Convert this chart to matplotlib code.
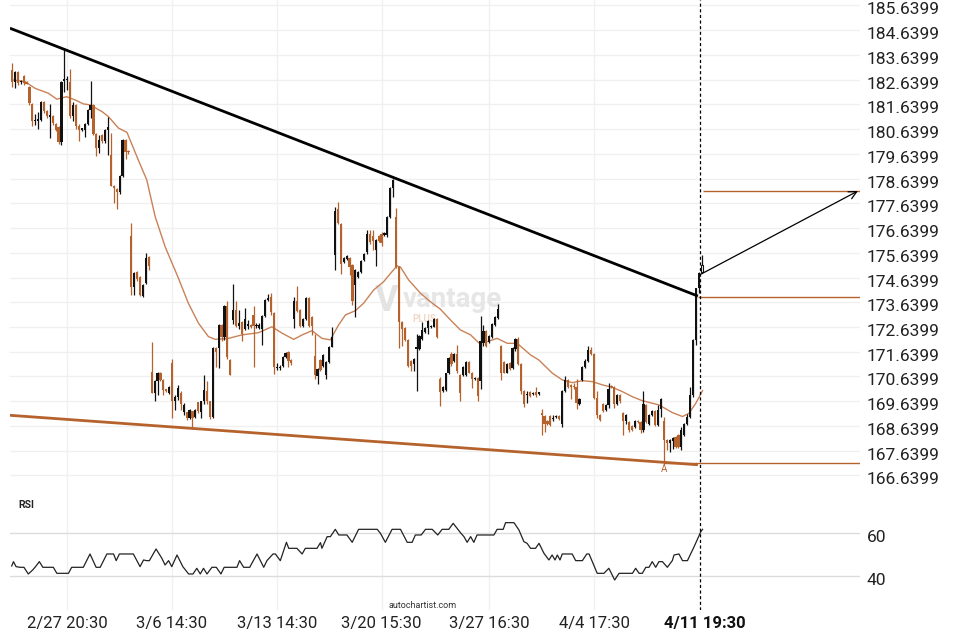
import matplotlib
matplotlib.use("Agg")
import matplotlib.pyplot as plt
import matplotlib.transforms as mtransforms

plt.rcParams['font.family'] = ['Roboto', 'DejaVu Sans']

UP = '#111111'
DOWN = '#b5622d'
MA_COL = '#c98257'

# hourly candles (price units)
opens = [
    183.04, 182.56, 182.94, 182.53, 182.77, 182.55, 182.36, 181.65, 180.95, 180.98,
    181.00, 181.74, 181.38, 181.15, 181.18, 180.85, 180.72, 180.10, 182.60, 182.62,
    182.56, 181.18, 181.62, 180.75, 180.62, 180.60, 180.85, 181.42, 181.62, 180.45,
    179.86, 180.40, 180.14, 180.60, 179.60, 178.35, 178.22, 178.08, 178.75, 180.20,
    179.75, 176.33, 174.25, 174.88, 174.68, 173.90, 174.40, 175.49, 170.84, 169.97,
    170.44, 170.80, 170.50, 170.10, 169.99, 171.20, 169.63, 169.83, 169.99, 169.20,
    169.19, 168.96, 169.23, 169.01, 169.59, 169.19, 169.63, 170.06, 169.63, 169.01,
    171.79, 171.79, 172.74, 172.23, 173.48, 171.31, 172.93, 173.33, 172.68, 172.83,
    172.56, 172.70, 172.74, 173.14, 172.68, 172.60, 172.56, 173.08, 173.74, 173.87,
    173.20, 170.99, 170.98, 171.08, 171.41, 171.62, 171.31, 172.97, 173.68, 173.33,
    172.70, 172.97, 173.82, 173.06, 171.48, 170.67, 171.31, 171.08, 170.71, 171.21,
    171.85, 175.57, 177.40, 176.82, 175.26, 175.40, 175.44, 175.13, 174.32, 174.68,
    174.86, 175.33, 175.67, 176.41, 176.30, 175.74, 176.30, 176.39, 176.35, 176.35,
    177.09, 178.24, 177.09, 175.06, 172.83, 172.60, 172.12, 171.28, 171.14, 171.77,
    171.75, 172.16, 172.43, 172.60, 172.64, 172.66, 172.97, 170.53, 170.06, 170.09,
    170.76, 171.55, 171.28, 171.55, 170.71, 170.71, 170.71, 171.21, 170.80, 170.53,
    170.57, 170.44, 171.98, 172.47, 172.02, 172.25, 172.74, 173.01, 171.88, 171.21,
    170.80, 171.17, 170.98, 171.75, 172.16, 171.14, 170.06, 169.88, 170.01, 169.93,
    170.01, 169.95, 169.15, 169.03, 168.84, 169.03, 168.93, 169.00, 169.03, 168.73,
    170.05, 170.48, 170.31, 170.24, 170.23, 169.51, 170.48, 171.01, 171.28, 171.71,
    171.55, 169.78, 169.07, 169.51, 169.27, 169.47, 170.27, 170.21, 169.51, 169.91,
    169.16, 168.84, 168.80, 168.62, 168.60, 168.84, 168.80, 168.46, 169.47, 168.73,
    169.07, 169.24, 168.66, 169.34, 168.84, 168.06, 167.93, 168.03, 168.19, 168.26,
    167.77, 168.26, 168.73, 169.00, 169.91, 172.11, 174.20, 174.86,
]
highs = [
    183.31, 182.98, 182.98, 182.64, 182.83, 182.60, 182.40, 181.70, 181.25, 181.35,
    181.78, 181.78, 181.42, 181.65, 181.22, 180.90, 180.76, 182.60, 183.91, 182.80,
    183.06, 181.75, 181.66, 180.85, 180.70, 180.90, 181.46, 182.57, 181.66, 180.50,
    180.40, 180.45, 180.66, 181.12, 180.50, 178.40, 178.27, 178.80, 180.25, 180.25,
    179.78, 176.84, 174.88, 174.92, 174.72, 174.36, 175.62, 175.52, 172.05, 170.50,
    170.84, 170.84, 170.55, 170.12, 170.25, 171.35, 169.88, 170.30, 170.05, 169.55,
    169.22, 169.32, 169.26, 169.32, 169.62, 169.66, 170.71, 170.44, 169.66, 171.82,
    171.82, 172.78, 172.78, 173.52, 173.71, 171.35, 174.36, 173.71, 173.31, 172.88,
    173.41, 172.93, 172.78, 173.47, 172.80, 172.80, 173.12, 173.78, 173.98, 174.03,
    173.24, 171.17, 171.10, 171.45, 171.62, 171.66, 171.35, 173.85, 174.31, 173.36,
    173.00, 173.86, 173.86, 173.10, 172.36, 170.98, 171.35, 171.56, 171.25, 171.86,
    172.63, 177.49, 177.70, 176.86, 175.48, 175.57, 175.48, 175.17, 174.97, 174.90,
    175.34, 175.64, 176.55, 176.55, 176.55, 176.18, 176.34, 176.48, 176.48, 177.13,
    178.28, 178.64, 177.47, 175.10, 172.87, 172.64, 172.16, 171.32, 171.39, 172.36,
    172.33, 172.83, 172.64, 172.94, 172.72, 173.01, 173.01, 170.63, 170.24, 170.80,
    171.43, 171.62, 171.59, 171.93, 170.75, 171.07, 171.25, 171.25, 170.84, 170.61,
    170.61, 173.10, 172.74, 172.51, 172.33, 172.80, 173.10, 173.55, 171.92, 171.25,
    171.18, 171.21, 171.83, 172.20, 172.22, 171.18, 170.10, 170.06, 170.05, 170.01,
    170.21, 170.01, 169.34, 169.07, 168.88, 169.07, 169.08, 169.08, 169.07, 170.09,
    170.64, 170.52, 170.35, 170.39, 170.54, 169.78, 171.05, 171.34, 171.88, 171.82,
    171.59, 170.07, 169.11, 169.55, 169.51, 170.37, 170.31, 170.25, 169.95, 169.95,
    169.20, 169.11, 168.84, 168.66, 168.88, 168.88, 168.84, 170.07, 169.51, 169.11,
    169.28, 169.28, 169.47, 169.78, 169.00, 168.10, 168.10, 168.21, 168.23, 168.30,
    168.60, 168.77, 169.13, 170.23, 172.15, 174.23, 174.88, 175.56,
]
lows = [
    182.36, 182.29, 182.43, 182.48, 182.43, 182.45, 181.62, 180.75, 180.81, 180.64,
    180.95, 181.30, 181.10, 180.30, 180.80, 180.55, 180.03, 180.00, 182.15, 182.22,
    181.08, 180.95, 180.64, 180.14, 180.55, 180.34, 180.80, 181.08, 180.40, 179.56,
    179.66, 180.08, 180.08, 179.60, 178.33, 177.67, 177.40, 178.00, 178.70, 179.43,
    179.65, 173.94, 173.94, 174.50, 173.88, 173.85, 174.36, 174.95, 169.97, 169.63,
    169.90, 170.45, 169.90, 170.02, 169.95, 168.95, 169.30, 169.70, 169.28, 169.10,
    168.90, 168.92, 168.51, 168.95, 169.18, 168.98, 169.52, 169.52, 168.92, 168.98,
    171.01, 170.98, 172.09, 172.10, 171.35, 170.68, 172.77, 172.63, 172.56, 172.06,
    172.52, 172.56, 172.60, 171.01, 172.60, 172.55, 171.93, 173.04, 173.71, 173.14,
    170.74, 170.90, 170.92, 171.04, 171.38, 171.04, 171.12, 172.60, 173.26, 172.66,
    172.66, 172.93, 172.66, 172.33, 170.54, 170.33, 170.86, 171.04, 170.54, 171.18,
    171.82, 174.93, 176.82, 174.79, 175.22, 175.36, 174.76, 173.51, 173.03, 174.64,
    174.82, 175.29, 175.60, 176.00, 175.74, 175.09, 176.08, 175.90, 176.31, 176.28,
    177.05, 177.90, 175.02, 171.79, 171.89, 172.06, 171.01, 170.87, 170.85, 170.06,
    171.71, 172.12, 172.39, 172.36, 172.60, 172.62, 172.21, 169.45, 170.02, 170.05,
    170.72, 171.07, 171.24, 170.80, 169.63, 170.67, 170.67, 170.76, 170.17, 170.49,
    169.63, 170.13, 171.88, 171.84, 171.98, 172.21, 172.70, 172.97, 170.49, 170.76,
    170.76, 170.90, 170.94, 171.68, 171.10, 169.93, 169.41, 169.55, 169.83, 169.89,
    169.83, 169.91, 168.26, 168.39, 168.69, 168.62, 168.84, 168.96, 168.89, 168.60,
    170.01, 170.19, 169.74, 170.14, 169.33, 169.47, 170.44, 170.97, 171.24, 171.49,
    169.74, 168.97, 168.84, 169.20, 169.23, 169.38, 170.17, 169.38, 169.47, 169.56,
    168.26, 168.73, 168.39, 168.42, 168.56, 168.76, 168.36, 168.39, 168.76, 168.69,
    169.03, 168.62, 168.62, 169.00, 167.12, 167.66, 167.59, 167.72, 167.75, 167.73,
    167.66, 168.22, 168.69, 168.96, 169.80, 171.93, 174.00, 174.82,
]
closes = [
    182.56, 182.94, 182.50, 182.58, 182.50, 182.48, 181.69, 180.95, 181.00, 181.02,
    181.74, 181.38, 181.18, 181.20, 180.88, 180.60, 180.10, 182.56, 182.66, 182.68,
    181.18, 181.62, 180.75, 180.62, 180.65, 180.85, 181.42, 181.62, 180.45, 179.86,
    180.20, 180.14, 180.61, 180.72, 178.35, 178.25, 178.09, 178.75, 180.20, 179.73,
    179.70, 174.25, 174.82, 174.57, 173.94, 174.33, 175.42, 175.12, 169.99, 170.44,
    170.80, 170.50, 170.10, 170.07, 170.20, 169.63, 169.83, 170.17, 169.51, 169.50,
    168.96, 169.28, 168.96, 169.28, 169.23, 169.63, 170.09, 169.63, 169.01, 171.79,
    171.62, 172.74, 172.23, 173.48, 171.41, 170.71, 173.33, 172.68, 172.79, 172.36,
    172.97, 172.74, 172.63, 172.70, 172.72, 172.74, 173.08, 173.74, 173.82, 173.24,
    171.01, 171.03, 171.00, 171.41, 171.58, 171.28, 171.17, 173.68, 173.30, 172.70,
    172.97, 173.82, 172.70, 172.70, 170.71, 170.94, 170.90, 171.52, 171.21, 171.82,
    172.25, 177.33, 176.85, 175.17, 175.44, 175.53, 175.06, 173.68, 174.93, 174.86,
    175.30, 175.60, 176.41, 176.07, 176.12, 176.14, 176.12, 176.03, 176.44, 177.09,
    178.24, 178.60, 175.06, 172.83, 172.56, 172.12, 171.07, 171.07, 171.35, 171.83,
    172.29, 172.52, 172.60, 172.90, 172.68, 172.97, 172.25, 170.03, 170.20, 170.76,
    171.39, 171.14, 171.55, 170.87, 169.99, 171.03, 171.21, 170.80, 170.53, 170.57,
    169.86, 172.06, 172.47, 171.88, 172.29, 172.76, 173.06, 173.37, 170.80, 170.80,
    171.14, 170.94, 171.79, 172.16, 171.14, 170.06, 169.52, 169.93, 169.87, 169.97,
    169.91, 169.97, 169.10, 168.70, 168.73, 168.66, 168.97, 169.04, 168.93, 170.05,
    170.50, 170.23, 170.21, 170.20, 169.56, 169.74, 171.01, 171.25, 171.71, 171.55,
    169.78, 169.07, 168.87, 169.24, 169.47, 170.14, 170.21, 169.51, 169.91, 169.64,
    168.84, 169.07, 168.46, 168.46, 168.84, 168.80, 168.46, 169.51, 168.80, 169.07,
    169.24, 168.66, 169.27, 169.72, 168.06, 167.95, 168.06, 168.17, 167.79, 167.77,
    168.49, 168.73, 169.00, 169.91, 172.11, 174.20, 174.82, 175.13,
]

# moving average as drawn (candle index, price)
ma_points = [
    (0, 182.63), (4.5, 182.56), (7.9, 182.29), (12.5, 182.09), (15.4, 181.85),
    (18.8, 181.95), (21.7, 181.82), (24.5, 181.66), (26.8, 181.62), (30.9, 181.35),
    (33.1, 181.15), (36.6, 180.68), (39.5, 180.51), (43.4, 179.39), (46.3, 178.59),
    (49.2, 177.10), (52.6, 175.89), (57.2, 174.61), (60.6, 173.60), (64.1, 172.79),
    (67.5, 172.25), (69.8, 172.14), (74.4, 172.18), (79.0, 172.32), (84.7, 172.41),
    (89.3, 172.65), (92.8, 172.39), (96.8, 172.14), (99.7, 172.32), (103.1, 172.49),
    (106.5, 172.18), (109.4, 172.12), (112.2, 172.72), (114.6, 173.13), (118.0, 173.30),
    (120.8, 173.60), (124.3, 174.14), (127.7, 174.47), (130.6, 174.88), (132.3, 175.11),
    (133.5, 175.06), (136.3, 174.54), (140.4, 174.00), (143.8, 173.66), (147.2, 173.36),
    (150.7, 172.92), (154.1, 172.52), (157.6, 172.32), (160.4, 172.00), (163.3, 172.05),
    (166.7, 172.18), (170.2, 171.98), (173.6, 171.98), (178.2, 171.51), (181.0, 171.31),
    (185.7, 170.77), (189.1, 170.50), (192.5, 170.39), (196.0, 170.47), (199.4, 170.43),
    (202.9, 170.30), (206.3, 170.20), (209.7, 170.03), (213.2, 169.82), (216.6, 169.66),
    (222.3, 169.49), (226.9, 169.18), (230.4, 169.02), (232.6, 169.15), (235.0, 169.56),
    (237.3, 170.07),
]

# RSI line as drawn (candle index, value)
rsi_points = [
    (-0.1, 44.69), (0.5, 46.72), (1.4, 44.38), (2.8, 44.07), (4.1, 44.07), (5.6, 40.94),
    (7.1, 42.82), (7.9, 44.07), (9.4, 46.72), (10.6, 44.07), (12.5, 44.07), (14.2, 44.07),
    (15.4, 41.25), (17.7, 41.25), (19.4, 41.25), (20.5, 44.07), (22.8, 44.07), (24.5, 44.07),
    (26.8, 50.31), (28.9, 44.07), (30.3, 44.07), (32.6, 50.31), (34.9, 50.31), (35.8, 47.19),
    (36.9, 50.31), (38.9, 50.31), (41.7, 50.31), (44.0, 44.38), (45.2, 47.50), (46.3, 47.19),
    (47.2, 47.19), (49.5, 52.65), (51.5, 48.28), (52.6, 45.16), (53.8, 47.19), (54.9, 44.38),
    (56.7, 49.84), (58.7, 44.38), (60.7, 40.94), (62.2, 40.94), (63.5, 43.60), (64.7, 40.94),
    (65.8, 43.60), (67.0, 40.94), (68.7, 44.07), (70.2, 44.07), (71.8, 40.94), (72.9, 44.07),
    (75.0, 44.07), (77.3, 44.07), (78.2, 47.19), (79.6, 44.07), (81.7, 44.07), (82.1, 45.16),
    (84.2, 50.31), (86.5, 44.07), (87.6, 47.19), (89.7, 50.31), (90.5, 50.31), (92.2, 47.19),
    (94.3, 55.77), (95.1, 52.96), (96.8, 52.96), (97.9, 52.96), (99.7, 50.31), (100.8, 52.96),
    (102.5, 52.96), (104.8, 52.96), (106.0, 55.62), (106.5, 52.96), (108.3, 58.43), (109.4, 58.43),
    (111.1, 61.86), (112.3, 59.21), (115.1, 59.21), (116.9, 55.77), (119.1, 61.86), (121.4, 61.86),
    (123.7, 61.86), (125.5, 61.86), (126.6, 59.99), (128.3, 55.77), (130.6, 61.86), (133.5, 61.86),
    (135.8, 55.77), (137.5, 55.77), (138.6, 59.21), (140.6, 59.21), (142.1, 61.86), (144.4, 61.86),
    (146.3, 59.21), (147.8, 61.86), (150.1, 61.86), (151.6, 64.67), (153.2, 61.86), (154.1, 60.30),
    (155.3, 58.43), (156.4, 55.77), (157.6, 58.43), (158.7, 55.77), (159.8, 59.21), (165.6, 59.21),
    (166.7, 61.86), (168.8, 61.86), (169.6, 64.98), (172.5, 64.98), (174.2, 61.55), (175.9, 56.08),
    (177.0, 55.30), (178.2, 52.96), (179.9, 52.96), (181.1, 55.30), (182.8, 50.62), (184.5, 47.50),
    (185.6, 49.84), (186.6, 47.50), (187.4, 49.84), (188.3, 47.50), (189.1, 50.31), (192.5, 50.31),
    (193.7, 47.19), (196.0, 47.19), (197.5, 50.31), (198.3, 50.31), (199.4, 46.72), (201.1, 41.25),
    (203.4, 41.25), (205.1, 43.60), (207.1, 38.13), (208.6, 41.25), (213.2, 41.25), (214.3, 43.60),
    (215.5, 41.25), (216.6, 41.25), (217.8, 44.07), (218.9, 44.07), (220.0, 46.72), (221.2, 44.07),
    (222.3, 46.72), (223.5, 46.72), (225.2, 44.07), (226.9, 47.19), (227.5, 49.84), (229.2, 50.31),
    (230.4, 47.19), (232.1, 47.19), (234.4, 53.74), (236.7, 60.77), (237.3, 61.86),
]

# pattern overlays (candle index, price)
upper_line = [(-0.7, 184.72), (235.7, 173.89)]
lower_line = [(-0.7, 169.07), (235.7, 167.07)]
breakout_level = 173.84
target_level = 178.14
support_level = 167.13
arrow_from = (236.8, 174.78)
arrow_to = (290.7, 178.14)
point_a = 224
signal_bar = 236.4

price_ticks = [166.6399, 167.6399, 168.6399, 169.6399, 170.6399, 171.6399, 172.6399,
               173.6399, 174.6399, 175.6399, 176.6399, 177.6399, 178.6399, 179.6399,
               180.6399, 181.6399, 182.6399, 183.6399, 184.6399, 185.6399]
date_pos = [19, 55, 91, 127, 164, 200]
date_labels = ['2/27 20:30', '3/6 14:30', '3/13 14:30', '3/20 15:30', '3/27 16:30', '4/4 17:30']
last_label = '4/11 19:30'

XMIN, XMAX = -0.69, 291.4

fig = plt.figure(figsize=(9.6, 6.4), dpi=100)
ax = fig.add_axes([10 / 960, 150 / 640, 850 / 960, 490 / 640])
ax2 = fig.add_axes([10 / 960, 30 / 640, 850 / 960, 120 / 640], sharex=ax)

for a in (ax, ax2):
    for p in date_pos:
        a.axvline(p, color='#f0f0f0', lw=1, zorder=0)
    for s in a.spines.values():
        s.set_visible(False)
for t in price_ticks:
    ax.axhline(t, color='#f0f0f0', lw=1, zorder=0)

# watermark
ax.text(0.443, 0.386, 'V', transform=ax.transAxes, fontsize=26, color='#e3e3e3',
        fontweight='bold', ha='center', va='center', zorder=0)
ax.text(0.52, 0.388, 'vantage', transform=ax.transAxes, fontsize=20, color='#e6e6e6',
        fontweight='semibold', ha='center', va='center', zorder=0)
ax.text(0.487, 0.35, 'PLUS', transform=ax.transAxes, fontsize=7, color='#f2d8c8',
        fontweight='bold', ha='center', va='center', zorder=0)

# candles
n = len(closes)
idx = list(range(n))
cols = [UP if c >= o else DOWN for o, c in zip(opens, closes)]
ax.vlines(idx, lows, highs, colors=cols, lw=0.9, zorder=3)
bottoms = [min(o, c) for o, c in zip(opens, closes)]
heights = [max(abs(c - o), 0.05) for o, c in zip(opens, closes)]
bars = ax.bar(idx, heights, bottom=bottoms, width=0.75, color=cols, linewidth=0, zorder=4)
bars[-1].set_facecolor('white')
bars[-1].set_edgecolor(UP)
bars[-1].set_linewidth(0.8)

# moving average
ax.plot([p[0] for p in ma_points], [p[1] for p in ma_points], color=MA_COL, lw=1.0, zorder=2)

# pattern
ax.plot([p[0] for p in upper_line], [p[1] for p in upper_line], color='black', lw=2.0,
        zorder=5, solid_capstyle='butt')
ax.plot([p[0] for p in lower_line], [p[1] for p in lower_line], color=DOWN, lw=2.0,
        zorder=5, solid_capstyle='butt')
ax.hlines(breakout_level, upper_line[1][0], XMAX, color=DOWN, lw=1, zorder=5)
ax.hlines(target_level, arrow_from[0] + 0.7, XMAX, color=DOWN, lw=1, zorder=5)
ax.hlines(support_level, point_a, XMAX, color=DOWN, lw=1, zorder=5)
ax.annotate('', xy=arrow_to, xytext=arrow_from,
            arrowprops=dict(arrowstyle='->', color='black', lw=0.9, mutation_scale=14,
                            shrinkA=0, shrinkB=0), zorder=6)
ax.text(point_a, 166.88, 'A', color=DOWN, fontsize=7, ha='center', va='center', zorder=6)

for a in (ax, ax2):
    a.axvline(signal_bar, color='black', lw=0.9, ls=(0, (2.5, 2)), zorder=7)

ax.set_xlim(XMIN, XMAX)
ax.set_ylim(166.05, 185.86)
ax.yaxis.tick_right()
ax.set_yticks(price_ticks, [f'{t:.4f}' for t in price_ticks])
ax.tick_params(axis='y', length=0, pad=5, labelsize=12.5, labelcolor='#222222')
ax.tick_params(axis='x', length=0, labelbottom=False)
shift = mtransforms.ScaledTranslation(0, -0.03, fig.dpi_scale_trans)
for lbl in ax.get_yticklabels():
    lbl.set_transform(lbl.get_transform() + shift)

# RSI panel
ax2.axhline(60, color='#dcdcdc', lw=1, zorder=1)
ax2.axhline(40, color='#dcdcdc', lw=1, zorder=1)
ax2.plot([p[0] for p in rsi_points], [p[1] for p in rsi_points], color='#222222', lw=0.9, zorder=3)
ax2.set_ylim(24.07, 80.28)
ax2.yaxis.tick_right()
ax2.set_yticks([40, 60], ['40', '60'])
ax2.set_xticks(date_pos, date_labels)
ax2.tick_params(axis='y', length=0, pad=5, labelsize=12.5, labelcolor='#222222')
ax2.tick_params(axis='x', length=0, pad=4, labelsize=12, labelcolor='#222222')
for lbl in ax2.get_yticklabels():
    lbl.set_transform(lbl.get_transform() + shift)
trans = mtransforms.blended_transform_factory(ax2.transData, ax2.transAxes)
ax2.text(238.1, -0.115, last_label, transform=trans, fontsize=12, fontweight='bold',
         color='#111111', ha='center', va='center')
ax2.text(0.0094, 0.875, 'RSI', transform=ax2.transAxes, fontsize=7.5, fontweight='bold',
         color='#222222', ha='left', va='center')
ax2.text(0.486, 0.04, 'autochartist.com', transform=ax2.transAxes, fontsize=6.5,
         color='#333333', ha='center', va='center')

fig.savefig('out.png', dpi=100)
